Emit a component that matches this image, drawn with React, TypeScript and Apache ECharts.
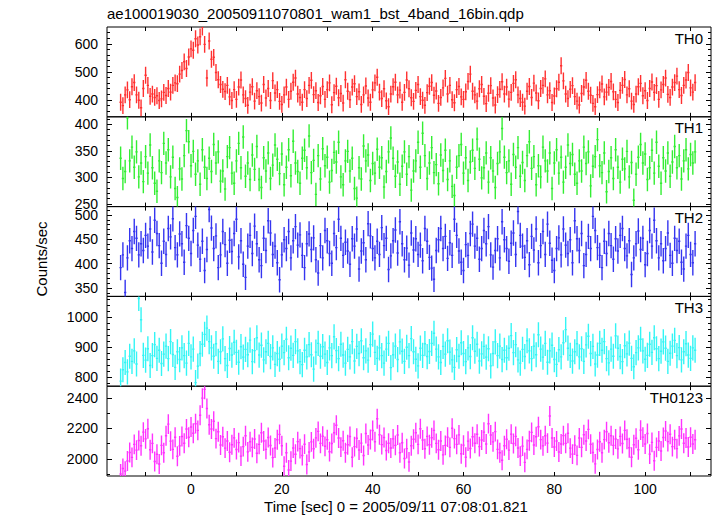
import React, { useEffect, useRef } from "react";
import * as echarts from "echarts";

const TITLE = "ae100019030_20050911070801_wam1_bst_4band_16bin.qdp";
const X_NAME = "Time [sec] 0 = 2005/09/11 07:08:01.821";
const Y_NAME = "Counts/sec";
const bandNames = ["TH0", "TH1", "TH2", "TH3", "TH0123"];
const bandColors = ["#ff3030", "#33ee33", "#3535f0", "#33f5f5", "#ff33ff"];

const binStart = -15.5;
const binWidth = 0.5;

const th0 = [
  392, 380, 418, 436, 401, 447, 462, 418, 399, 372,
  441, 488, 452, 413, 421, 409, 415, 398, 404, 427,
  416, 441, 428, 452, 461,
  458, 492, 505, 536, 512, 553, 582, 577, 618, 596,
  625, 660, 598, 478, 610, 545,
  552, 498, 472, 455, 438, 430,
  452, 411, 398, 437, 402, 446, 471, 418, 405, 381,
  428, 447, 396, 433, 412, 389, 455, 407, 441, 398,
  469, 425, 437, 395, 384, 418, 446, 402, 431, 463,
  478, 421, 409, 392, 437, 405, 452, 470, 419, 433,
  391, 415, 448, 402, 437, 461, 383, 426, 449, 408,
  423, 389, 472, 431, 401, 446, 458, 412, 429, 384,
  418, 450, 407, 392, 436, 461, 481, 428, 405, 440,
  397, 376, 421, 447, 463, 418, 435, 392, 427, 471,
  440, 408, 395, 434, 455, 412, 399, 381, 426, 449,
  462, 417, 432, 388, 409, 443, 477, 421, 452, 401,
  390, 437, 448, 411, 402, 429, 466, 492, 431, 418,
  396, 440, 455, 413, 387, 424, 451, 407, 382, 419,
  438, 465, 421, 446, 403, 427, 459, 472, 418, 405,
  392, 378, 431, 448, 409, 460, 425, 397, 441, 452,
  475, 418, 433, 391, 414, 440, 463, 522, 468, 421,
  405, 438, 451, 412, 396, 382, 423, 446, 470, 431,
  417, 388, 376, 419, 436, 457, 411, 428, 445, 466,
  429, 402, 391, 434, 452, 473, 418, 440, 396, 384,
  421, 447, 459, 415, 433, 398, 441, 464, 427, 451,
  402, 436, 455, 478, 420, 409, 446, 462, 485, 437,
  416, 452, 471, 498, 443, 428, 462,
];

const th1 = [
  336, 298, 311, 412, 331, 357, 319, 348, 301, 327,
  292, 339, 308, 361, 318, 289, 274, 331, 309, 364,
  327, 352, 301, 338, 279, 262, 316, 297, 341, 388,
  367, 322, 349, 306, 331, 287, 352, 319, 298, 336,
  311, 362, 327, 348, 293, 312, 278, 339, 356, 308,
  289, 331, 364, 318, 376, 302, 327, 296, 342, 315,
  358, 296, 281, 337, 312, 346, 298, 323, 361, 334,
  307, 344, 286, 319, 352, 303, 368, 327, 311, 289,
  336, 351, 318, 378, 309, 332, 268, 341, 297, 354,
  322, 338, 291, 313, 347, 329, 366, 301, 286, 331,
  349, 312, 336, 279, 261, 318, 297, 359, 331, 342,
  294, 326, 308, 353, 319, 337, 282, 311, 348, 374,
  336, 302, 329, 287, 321, 348, 306, 339, 276, 312,
  331, 366, 319, 383, 341, 298, 327, 356, 309, 324,
  288, 342, 313, 351, 296, 331, 283, 266, 319, 341,
  362, 308, 337, 294, 329, 351, 317, 372, 334, 299,
  318, 346, 291, 337, 312, 281, 326, 348, 392, 338,
  309, 331, 287, 343, 319, 356, 302, 328, 294, 341,
  367, 317, 339, 286, 322, 301, 357, 331, 312, 346,
  279, 327, 352, 308, 338, 291, 319, 361, 326, 343,
  306, 289, 331, 312, 357, 326, 348, 284, 321, 339,
  371, 322, 309, 346, 273, 311, 337, 298, 352, 319,
  291, 334, 316, 349, 301, 328, 257, 306, 338, 362,
  327, 344, 296, 318, 351, 308, 366, 321, 289, 337,
  312, 346, 302, 329, 358, 318, 341, 297, 331, 352,
  316, 343, 327, 348,
];

const th2 = [
  392, 418, 341, 412, 447, 431, 466, 452, 418, 441,
  427, 458, 436, 471, 424, 489, 462, 437, 401, 446,
  419, 472, 455, 492, 433, 418, 461, 441, 403, 478,
  452, 421, 468, 497, 438, 409, 446, 386, 429, 511,
  473, 431, 457, 392, 418, 466, 439, 401, 448, 425,
  462, 491, 414, 447, 399, 372, 436, 458, 421, 477,
  441, 408, 396, 452, 427, 488, 463, 419, 436, 402,
  367, 418, 449, 431, 466, 412, 447, 476, 438, 459,
  417, 392, 441, 461, 429, 453, 408, 381, 437, 412,
  468, 447, 421, 401, 462, 433, 491, 452, 417, 444,
  426, 399, 451, 436, 471, 389, 426, 443, 408, 482,
  457, 431, 412, 446, 419, 474, 437, 452, 388, 416,
  447, 469, 422, 486, 441, 408, 432, 397, 463, 428,
  451, 419, 438, 406, 472, 446, 413, 391, 368, 427,
  449, 472, 431, 456, 411, 443, 417, 491, 458, 426,
  403, 386, 439, 417, 462, 481, 436, 452, 409, 431,
  468, 441, 476, 418, 393, 427, 451, 412, 486, 449,
  431, 405, 442, 463, 419, 507, 458, 436, 413, 447,
  398, 456, 428, 471, 402, 437, 466, 419, 481, 442,
  407, 386, 431, 453, 418, 471, 438, 421, 449, 402,
  488, 451, 427, 462, 396, 419, 456, 431, 497, 468,
  433, 417, 392, 446, 421, 462, 437, 409, 451, 426,
  458, 472, 431, 416, 447, 378, 412, 441, 467, 429,
  452, 398, 421, 468, 436, 489, 447, 412, 441, 406,
  431, 463, 417, 401, 452, 427, 446, 403, 389, 436,
  458, 419, 402, 441,
];

const th3 = [
  786, 824, 848, 817, 869, 852, 887, 843, 1062, 991,
  872, 856, 894, 838, 871, 908, 862, 889, 845, 876,
  903, 861, 918, 875, 832, 884, 858, 897, 871, 846,
  912, 867, 893, 781, 836, 878, 909, 942, 963, 918,
  897, 869, 911, 852, 884, 927, 861, 838, 895, 873,
  916, 882, 849, 901, 866, 892, 874, 923, 851, 888,
  931, 873, 906, 857, 884, 912, 868, 897, 842, 878,
  859, 903, 881, 926, 864, 896, 872, 918, 887, 851,
  841, 889, 867, 908, 874, 826, 883, 912, 869, 901,
  876, 848, 897, 871, 934, 888, 861, 909, 873, 846,
  892, 867, 918, 853, 902, 878, 921, 864, 887, 856,
  908, 943, 882, 862, 897, 871, 846, 893, 912, 831,
  874, 903, 858, 917, 886, 852, 899, 871, 928, 884,
  859, 837, 896, 872, 911, 868, 885, 912, 946, 893,
  867, 848, 902, 876, 921, 883, 857, 832, 891, 869,
  914, 878, 851, 897, 868, 931, 886, 909, 853, 877,
  902, 866, 894, 837, 878, 917, 871, 903, 858, 889,
  864, 896, 938, 881, 908, 857, 846, 892, 868, 921,
  887, 861, 903, 874, 941, 893, 866, 912, 849, 887,
  906, 858, 842, 891, 867, 914, 958, 896, 872, 853,
  884, 911, 867, 894, 852, 907, 936, 878, 902, 843,
  873, 912, 889, 918, 861, 847, 893, 869, 937, 896,
  868, 851, 904, 877, 913, 862, 834, 881, 897, 926,
  887, 859, 872, 909, 882, 931, 894, 861, 886, 917,
  896, 852, 879, 903, 922, 871, 898, 857, 884, 911,
  873, 862, 897, 889,
];

const th0123 = [
  1902, 1938, 1921, 1987, 2043, 2011, 2096, 2058, 2121, 2087,
  2176, 2132, 2198, 2061, 2102, 1984, 2031, 1967, 2089, 2041,
  2152, 2228, 2117, 2063, 2142, 2018, 2086, 2147, 2103, 2196,
  2142, 2209, 2168, 2231, 2187, 2286, 2398, 2455, 2330, 2224,
  2196, 2247, 2133, 2178, 2092, 2146, 2071, 2118, 2044, 2093,
  2138, 2062, 2107, 2019, 2081, 2152, 2047, 2113, 2076, 2131,
  2038, 2096, 2172, 2118, 2063, 2141, 2088, 2009, 2072, 2126,
  2161, 2087, 1953, 2041, 1928, 1986, 2072, 2031, 2114, 2068,
  2023, 2097, 1964, 2046, 2112, 2067, 2138, 2181, 2102, 2149,
  2083, 2126, 2048, 2101, 2172, 2221, 2137, 2078, 2119, 2041,
  2093, 2147, 2012, 2081, 2136, 2059, 2104, 2023, 2167, 2092,
  2128, 2186, 2113, 2263, 2159, 2094, 2141, 2056, 2103, 2072,
  2132, 2089, 2157, 2041, 2106, 2003, 2068, 1981, 2087, 2129,
  2172, 2096, 2198, 2124, 2067, 2148, 2093, 2139, 2187, 2102,
  2061, 2118, 2027, 2089, 2143, 2076, 2201, 2133, 2096, 2158,
  2034, 2091, 2012, 2117, 2069, 2146, 2103, 2162, 2081, 2124,
  2176, 2098, 2231, 2157, 2112, 2179, 2063, 2041, 1992, 2087,
  2129, 2058, 2163, 2101, 2148, 2072, 2019, 2084, 1978, 2063,
  2119, 2174, 2092, 2146, 2211, 2127, 2086, 2152, 2104, 2281,
  2137, 2079, 2118, 2046, 2098, 2153, 2102, 2168, 2071, 2032,
  2091, 2024, 2137, 2076, 2159, 2118, 2194, 2097, 2043, 1968,
  2062, 2113, 2041, 2127, 2178, 2106, 2152, 2089, 2131, 2066,
  2148, 2101, 2187, 2129, 2074, 2012, 2093, 2136, 2061, 2189,
  2143, 2098, 2167, 2032, 2109, 1989, 2076, 2118, 2052, 2141,
  2183, 2114, 2162, 2081, 2127, 2068, 2151, 2196, 2103, 2137,
  2079, 2142, 2098, 2126,
];

const bandValues = [th0, th1, th2, th3, th0123];
const errHalf = [30, 22, 26, 42, 65];

const yMin = [340, 245, 333, 769, 1889];
const yMax = [660, 414, 517, 1069, 2476];
const yMajorTicks = [
  [400, 500, 600],
  [250, 300, 350, 400],
  [350, 400, 450, 500],
  [800, 900, 1000],
  [2000, 2200, 2400],
];
const yMinorTicks = [
  [360, 380, 420, 440, 460, 480, 520, 540, 560, 580, 620, 640],
  [260, 270, 280, 290, 310, 320, 330, 340, 360, 370, 380, 390, 410],
  [340, 360, 370, 380, 390, 410, 420, 430, 440, 460, 470, 480, 490, 510],
  [780, 820, 840, 860, 880, 920, 940, 960, 980, 1020, 1040, 1060],
  [1900, 2100, 2300],
];

const xMin = -18.5;
const xMax = 114.5;
const xLabelValues = [0, 20, 40, 60, 80, 100];
const xTickValues = [-10, 0, 10, 20, 30, 40, 50, 60, 70, 80, 90, 100, 110];

const FONT = "'Liberation Sans', Arial, Helvetica, sans-serif";
const W = 717;
const H = 516;
const GRID_LEFT = 107;
const GRID_RIGHT = 6;
const GRID_TOP = 27;
const PANEL_H = 89.8;

const plain = (v: number) => String(v);

export default function App() {
  const ref = useRef<HTMLDivElement>(null);

  useEffect(() => {
    if (!ref.current) return;
    const chart = echarts.init(ref.current, undefined, { renderer: "svg" });

    const grids: any[] = [];
    const xAxes: any[] = [];
    const yAxes: any[] = [];
    const series: any[] = [];
    const graphics: any[] = [];

    bandNames.forEach((name, k) => {
      const top = GRID_TOP + PANEL_H * k;
      grids.push({
        left: GRID_LEFT,
        right: GRID_RIGHT,
        top,
        height: PANEL_H,
        show: true,
        borderColor: "#000",
        borderWidth: 1,
        backgroundColor: "transparent",
        containLabel: false,
      });
      const isLast = k === bandNames.length - 1;
      ["bottom", "top"].forEach((pos) => {
        xAxes.push({
          type: "value",
          gridIndex: k,
          position: pos,
          min: xMin,
          max: xMax,
          splitNumber: 7,
          axisLine: { show: false, onZero: false },
          splitLine: { show: false },
          axisTick: {
            show: true,
            inside: true,
            length: 4,
            customValues: xTickValues,
            lineStyle: { color: "#000", width: 1 },
          },
          axisLabel: {
            show: isLast && pos === "bottom",
            customValues: xLabelValues,
            formatter: plain,
            color: "#000",
            fontSize: 14,
            fontFamily: FONT,
            margin: 6,
          },
        });
      });
      ["left", "right"].forEach((pos) => {
        yAxes.push({
          type: "value",
          gridIndex: k,
          position: pos,
          min: yMin[k],
          max: yMax[k],
          axisLine: { show: false, onZero: false },
          splitLine: { show: false },
          axisTick: {
            show: true,
            inside: true,
            length: 5,
            customValues: yMajorTicks[k],
            lineStyle: { color: "#000", width: 1 },
          },
          axisLabel: {
            show: pos === "left",
            customValues: yMajorTicks[k],
            formatter: plain,
            color: "#000",
            fontSize: 14,
            fontFamily: FONT,
            margin: 9,
          },
        });
        yAxes.push({
          type: "value",
          gridIndex: k,
          position: pos,
          offset: 0,
          min: yMin[k],
          max: yMax[k],
          axisLine: { show: false, onZero: false },
          splitLine: { show: false },
          axisTick: {
            show: true,
            inside: true,
            length: 3,
            customValues: yMinorTicks[k],
            lineStyle: { color: "#000", width: 1 },
          },
          axisLabel: { show: false, customValues: yMinorTicks[k] },
        });
      });

      const color = bandColors[k];
      const data = bandValues[k].map((v, i) => [binStart + i * binWidth, v, errHalf[k]]);
      series.push({
        type: "custom",
        name,
        xAxisIndex: k * 2,
        yAxisIndex: k * 4,
        clip: true,
        data,
        encode: { x: 0, y: 1 },
        renderItem: (params: any, api: any) => {
          const x = api.value(0);
          const y = api.value(1);
          const e = api.value(2);
          const pl = api.coord([x - binWidth / 2, y]);
          const pr = api.coord([x + binWidth / 2, y]);
          const pt = api.coord([x, y + e]);
          const pb = api.coord([x, y - e]);
          const st = { stroke: color, lineWidth: 1.4 };
          return {
            type: "group",
            children: [
              { type: "line", shape: { x1: pl[0], y1: pl[1], x2: pr[0], y2: pr[1] }, style: st },
              { type: "line", shape: { x1: pt[0], y1: pt[1], x2: pb[0], y2: pb[1] }, style: st },
            ],
          };
        },
      });

      graphics.push({
        type: "text",
        x: W - GRID_RIGHT - 8,
        y: top + 11,
        style: {
          text: name,
          fill: "#000",
          font: `15px ${FONT}`,
          textAlign: "right",
          textVerticalAlign: "middle",
        },
      });
    });

    graphics.push({
      type: "text",
      x: GRID_LEFT,
      y: 13,
      style: { text: TITLE, fill: "#000", font: `15px ${FONT}`, textAlign: "left", textVerticalAlign: "middle" },
    });
    graphics.push({
      type: "text",
      x: 396,
      y: 506,
      style: { text: X_NAME, fill: "#000", font: `15px ${FONT}`, textAlign: "center", textVerticalAlign: "middle" },
    });
    graphics.push({
      type: "text",
      x: 41,
      y: 259,
      rotation: Math.PI / 2,
      style: { text: Y_NAME, fill: "#000", font: `15px ${FONT}`, textAlign: "center", textVerticalAlign: "middle" },
    });

    chart.setOption({
      animation: false,
      backgroundColor: "#fff",
      grid: grids,
      xAxis: xAxes,
      yAxis: yAxes,
      series,
      graphic: graphics,
    });

    return () => chart.dispose();
  }, []);

  return (
    <div
      ref={ref}
      style={{ position: "absolute", left: 0, top: 0, width: W, height: H }}
    />
  );
}
